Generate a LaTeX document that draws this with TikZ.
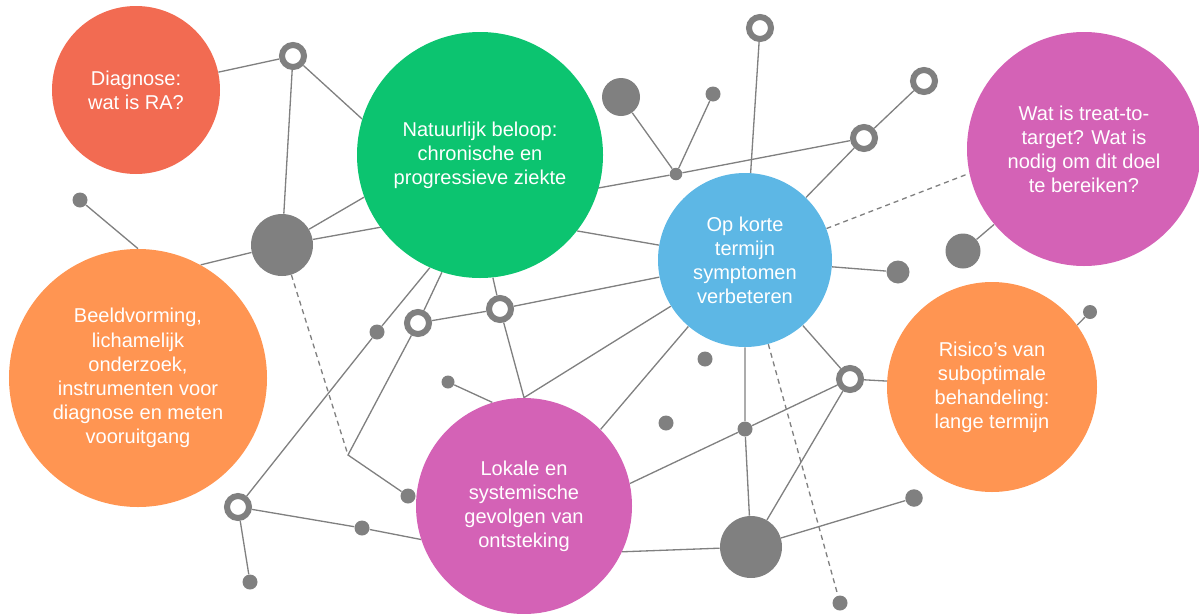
\documentclass[tikz,border=0pt]{standalone}
\usepackage{fontspec}
\setmainfont{Liberation Sans}
\usetikzlibrary{backgrounds}

\definecolor{diag}{RGB}{242,107,82}
\definecolor{beloop}{RGB}{12,196,112}
\definecolor{korte}{RGB}{93,183,229}
\definecolor{paars}{RGB}{212,98,182}
\definecolor{oranje}{RGB}{255,149,82}
\definecolor{net}{RGB}{128,128,128}

\tikzset{
  topic/.style={circle,inner sep=0pt,align=center,text=white,font=\fontsize{11.4pt}{13.7pt}\selectfont},
  ring/.style={circle,draw=net,line width=1.2mm,fill=white,inner sep=0pt,minimum size=4.4mm},
  blob/.style={circle,fill=net,inner sep=0pt,minimum size=#1},
  blob/.default=3mm,
  link/.style={draw=net,line width=0.75pt},
  dashlink/.style={link,dash pattern=on 1mm off 0.8mm},
}

\begin{document}
\begin{tikzpicture}[x=0.2mm,y=-0.2mm]
  \useasboundingbox (0,0) rectangle (1199,614);
  % topics
  \node[topic,fill=diag,minimum size=33.6mm] (diagnose) at(136,90){Diagnose:\\wat is RA?};
  \node[topic,fill=beloop,minimum size=49.2mm] (beloop) at(480,155){Natuurlijk beloop:\\chronische en\\progressieve ziekte};
  \node[topic,fill=korte,minimum size=34.8mm] (korte) at(745,260){Op korte\\termijn\\symptomen\\verbeteren};
  \node[topic,fill=paars,minimum size=46.8mm] (target) at(1084,149){Wat is treat-to-\\target? Wat is\\nodig om dit doel\\te bereiken?};
  \node[topic,fill=oranje,minimum size=51.6mm] (beeld) at(138,378){Beeldvorming,\\lichamelijk\\onderzoek,\\instrumenten voor\\diagnose en meten\\vooruitgang};
  \node[topic,fill=paars,minimum size=43.2mm] (gevolgen) at(524,506){Lokale en\\systemische\\gevolgen van\\ontsteking};
  \node[topic,fill=oranje,minimum size=42mm] (risico) at(992,387){Risico’s van\\suboptimale\\behandeling:\\lange termijn};
  % rings
  \node[ring] (o1) at(293,56){};
  \node[ring] (o2) at(760,28){};
  \node[ring] (o3) at(924,81){};
  \node[ring] (o4) at(864,138){};
  \node[ring] (o5) at(418,323){};
  \node[ring] (o6) at(500,309){};
  \node[ring] (o7) at(850,379){};
  \node[ring] (o8) at(238,507){};
  % big dots
  \node[blob=12.4mm] (g1) at(282,245){};
  \node[blob=7.6mm] (g2) at(621,97){};
  \node[blob=7mm] (g3) at(963,251){};
  \node[blob=12.4mm] (g4) at(751,547){};
  % small dots
  \node[blob=4.6mm] (m1) at(898,272){};
  \node[blob] (m2) at(705,359){};
  \node[blob] (m3) at(666,423){};
  \node[blob=3.5mm] (m4) at(914,498){};
  \node[blob] (d1) at(80,200){};
  \node[blob] (d2) at(713,94){};
  \node[blob=2.5mm] (d3) at(676,174){};
  \node[blob] (d4) at(377,332){};
  \node[blob=2.6mm] (d5) at(448,382){};
  \node[blob] (d6) at(408,496){};
  \node[blob] (d7) at(362,528){};
  \node[blob] (d8) at(250,582){};
  \node[blob] (d9) at(745,429){};
  \node[blob=2.8mm] (d10) at(1090,312){};
  \node[blob] (d11) at(840,603){};
  \coordinate (j1) at(348,455);
  % links
  \begin{scope}[on background layer]
    \draw[link] (diagnose) -- (o1);
    \draw[link] (o1) -- (g1);
    \draw[link] (o1) -- (beloop.163);
    \draw[link] (d1) -- (beeld.north);
    \draw[link] (beeld.61) -- (g1);
    \draw[link] (g1) -- (beloop.200);
    \draw[link] (g1) -- (d3) -- (o4);
    \draw[link] (g2) -- (d3) -- (d2);
    \draw[link] (o4) -- (o3);
    \draw[link] (korte) -- (o4);
    \draw[link] (korte) -- (o2);
    \draw[link] (korte) -- (m1);
    \draw[link] (beloop.322) -- (korte);
    \draw[link] (beloop.276) -- (o6);
    \draw[link] (beloop.252) -- (o5);
    \draw[link] (beloop.246) -- (d4) -- (o8);
    \draw[link] (o5) -- (o6) -- (korte);
    \draw[link] (o6) -- (gevolgen.north) -- (korte);
    \draw[link] (o5) -- (j1) -- (d6);
    \draw[link] (d5) -- (gevolgen.107);
    \draw[link] (o8) -- (d7) -- (gevolgen.198);
    \draw[link] (o8) -- (d8);
    \draw[link] (korte) -- (gevolgen.45);
    \draw[link] (korte) -- (d9) -- (g4);
    \draw[link] (korte) -- (o7) -- (risico);
    \draw[link] (o7) -- (d9) -- (gevolgen.12);
    \draw[link] (o7) -- (g4) -- (m4);
    \draw[link] (gevolgen.335) -- (g4);
    \draw[link] (g3) -- (target.220);
    \draw[link] (risico.36) -- (d10);
    % dashed
    \draw[dashlink] (g1) -- (j1);
    \draw[dashlink] (korte) -- (d11);
    \draw[dashlink] (korte) -- (target.192);
  \end{scope}
\end{tikzpicture}
\end{document}
